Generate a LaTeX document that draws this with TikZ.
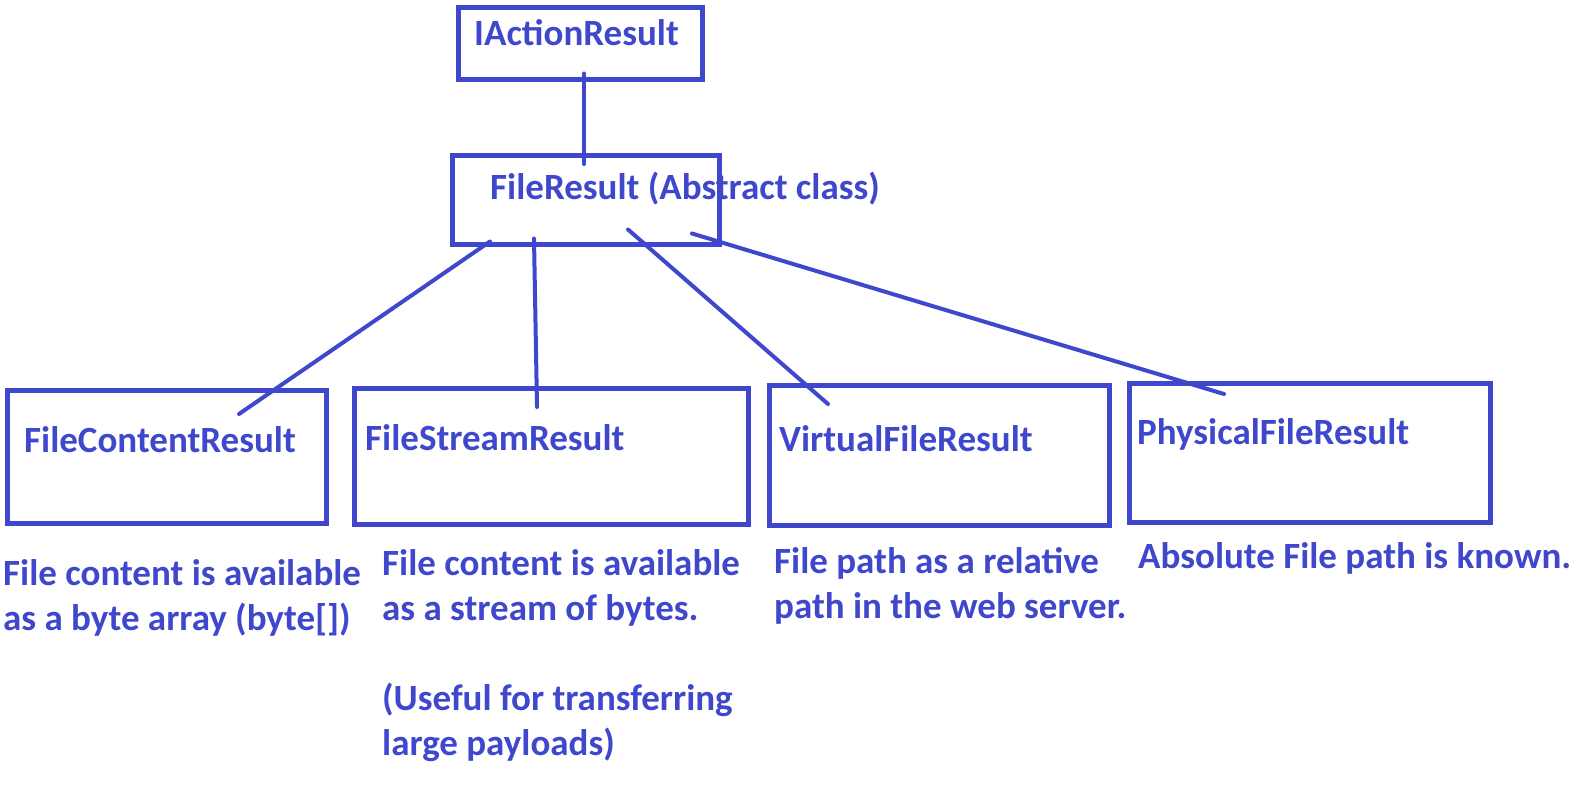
\documentclass[tikz,border=0pt]{standalone}
\usepackage{fontspec}
\setmainfont{Carlito}
\usetikzlibrary{positioning}
\definecolor{paintblue}{RGB}{63,72,204}
\begin{document}
\begin{tikzpicture}[x=1pt,y=-1pt]
    \tikzstyle{box} = [draw=paintblue, line width=4.5pt, inner sep=0pt, anchor=north west]
    \tikzstyle{title} = [text=paintblue, inner sep=0pt, anchor=base west, font=\fontsize{37}{45}\selectfont\bfseries]
    \tikzstyle{annot} = [text=paintblue, inner sep=0pt, anchor=base west, align=left, font=\fontsize{37}{45}\selectfont\bfseries]
    \tikzstyle{link} = [draw=paintblue, line width=4pt, line cap=round]
    \useasboundingbox (0,0) rectangle (1583,790);
%   boxes
    \node[box, minimum width=244pt, minimum height=72pt] (ia) at (456,5) {};
    \node[box, minimum width=267pt, minimum height=89pt] (fr) at (450,153) {};
    \node[box, minimum width=319pt, minimum height=133pt] (fcr) at (5,388) {};
    \node[box, minimum width=394pt, minimum height=136pt] (fsr) at (352,386) {};
    \node[box, minimum width=340pt, minimum height=140pt] (vfr) at (767,383) {};
    \node[box, minimum width=361pt, minimum height=139pt] (pfr) at (1127,381) {};
%   titles
    \node[title] (iat) at (474,45) {IActionResult};
    \node[title] (frt) at (490,199) {FileResult (Abstract class)};
    \node[title] (fcrt) at (24,452) {FileContentResult};
    \node[title] (fsrt) at (365,450) {FileStreamResult};
    \node[title] (vfrt) at (779,451) {VirtualFileResult};
    \node[title] (pfrt) at (1137,444) {PhysicalFileResult};
%   descriptions (anchored on the last line)
    \node[annot] (fcrd) at (3,630) {File content is available\\as a byte array (byte[])};
    \node[annot] (fsrd) at (382,755) {File content is available\\as a stream of bytes.\\[45pt](Useful for transferring\\large payloads)};
    \node[annot] (vfrd) at (774,618) {File path as a relative\\path in the web server.};
    \node[annot] (pfrd) at (1138,568) {Absolute File path is known.};
%   connectors
    \draw[link] ([shift={(128,-8)}]ia.south west) -- ([shift={(134,11)}]fr.north west);
    \draw[link] ([shift={(40,-5)}]fr.south west) -- ([shift={(234,26)}]fcr.north west);
    \draw[link] ([shift={(84,-8)}]fr.south west) -- ([shift={(185,21)}]fsr.north west);
    \draw[link] ([shift={(178,-17)}]fr.south west) -- ([shift={(61,21)}]vfr.north west);
    \draw[link] ([shift={(242,-13)}]fr.south west) -- ([shift={(97,13)}]pfr.north west);
\end{tikzpicture}
\end{document}
